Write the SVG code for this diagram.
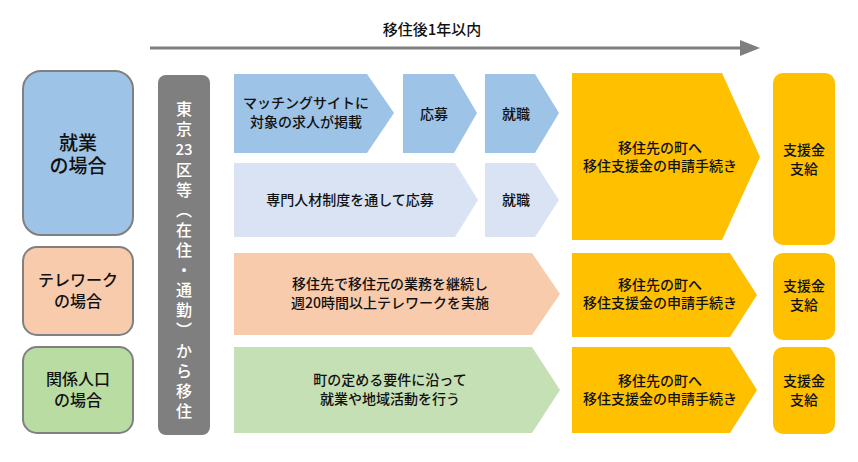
<svg xmlns="http://www.w3.org/2000/svg" width="858" height="462" viewBox="0 0 858 462">
<style>
text{font-family:"Noto Sans CJK JP","Noto Sans",sans-serif;fill:#111;text-anchor:middle;font-weight:500}
.t{font-size:14px}
.l{font-size:19px}
.v{font-size:16px;fill:#fff}
.side{stroke:#808080;stroke-width:2}
</style>
<rect width="858" height="462" fill="#fff"/>
<g id="connectors">
<line x1="150" y1="48" x2="742" y2="48" stroke="#7f7f7f" stroke-width="3"/>
<path d="M740,40L760,48L740,56z" fill="#7f7f7f"/>
</g>
<text x="432" y="35" style="font-size:15px">移住後1年以内</text>
<g id="left1"><rect class="side" x="23" y="71" width="110" height="164" rx="18" fill="#9dc3e6"/><text class="l" x="78" y="150">就業</text><text class="l" x="78" y="173">の場合</text></g>
<g id="left2"><rect class="side" x="23" y="247" width="110" height="88" rx="14" fill="#f8cbad"/><text x="78" y="286" style="font-size:16px">テレワーク</text><text x="78" y="307" style="font-size:16px">の場合</text></g>
<g id="left3"><rect class="side" x="23" y="347" width="110" height="86" rx="14" fill="#b9dca3"/><text x="78" y="385" style="font-size:16px">関係人口</text><text x="78" y="406" style="font-size:16px">の場合</text></g>
<g id="bar"><rect x="158" y="75" width="52" height="360" rx="8" fill="#7f7f7f"/>
<text class="v" x="184" y="115">東</text><text class="v" x="184" y="135">京</text><text class="v" x="184" y="155" style="font-size:15px">23</text><text class="v" x="184" y="176">区</text><text class="v" x="184" y="196">等</text><text class="v" x="184" y="216">︵</text><text class="v" x="184" y="236">在</text><text class="v" x="184" y="256">住</text><text class="v" x="184" y="276">・</text><text class="v" x="184" y="296">通</text><text class="v" x="184" y="316">勤</text><text class="v" x="184" y="336">︶</text><text class="v" x="184" y="357">か</text><text class="v" x="184" y="377">ら</text><text class="v" x="184" y="397">移</text><text class="v" x="184" y="417">住</text></g>
<g id="r1a"><path d="M234,74H367L394,113L367,153H234z" fill="#9dc3e6"/><text class="t" x="306" y="108">マッチングサイトに</text><text class="t" x="306" y="127">対象の求人が掲載</text></g>
<g id="r1b"><path d="M403,74H454L477,113L454,153H403z" fill="#9dc3e6"/><text class="t" x="434" y="119">応募</text></g>
<g id="r1c"><path d="M485,74H535L559,113L535,153H485z" fill="#9dc3e6"/><text class="t" x="516" y="119">就職</text></g>
<g id="r2a"><path d="M234,163H455L478,200L455,237H234z" fill="#dae3f3"/><text class="t" x="350" y="205">専門人材制度を通して応募</text></g>
<g id="r2b"><path d="M485,163H535L559,200L535,237H485z" fill="#dae3f3"/><text class="t" x="516" y="205">就職</text></g>
<g id="y1"><path d="M572,73H722L760,157L722,240H572z" fill="#ffc000"/><text class="t" x="660" y="153">移住先の町へ</text><text class="t" x="660" y="171">移住支援金の申請手続き</text></g>
<g id="s1"><rect x="773" y="73" width="62" height="172" rx="10" fill="#ffc000"/><text class="t" x="804" y="155">支援金</text><text class="t" x="804" y="174">支給</text></g>
<g id="r3"><path d="M234,253H532L560,294L532,335H234z" fill="#f8cbad"/><text class="t" x="390" y="289">移住先で移住元の業務を継続し</text><text class="t" x="390" y="308">週20時間以上テレワークを実施</text></g>
<g id="y2"><path d="M572,253H730L757,295L730,337H572z" fill="#ffc000"/><text class="t" x="660" y="290">移住先の町へ</text><text class="t" x="660" y="308">移住支援金の申請手続き</text></g>
<g id="s2"><rect x="773" y="253" width="62" height="87" rx="10" fill="#ffc000"/><text class="t" x="804" y="291">支援金</text><text class="t" x="804" y="310">支給</text></g>
<g id="r4"><path d="M234,347H532L560,390L532,433H234z" fill="#c5e0b4"/><text class="t" x="390" y="385">町の定める要件に沿って</text><text class="t" x="390" y="404">就業や地域活動を行う</text></g>
<g id="y3"><path d="M572,347H730L757,390L730,433H572z" fill="#ffc000"/><text class="t" x="660" y="386">移住先の町へ</text><text class="t" x="660" y="404">移住支援金の申請手続き</text></g>
<g id="s3"><rect x="773" y="347" width="62" height="87" rx="10" fill="#ffc000"/><text class="t" x="804" y="386">支援金</text><text class="t" x="804" y="405">支給</text></g>
</svg>
